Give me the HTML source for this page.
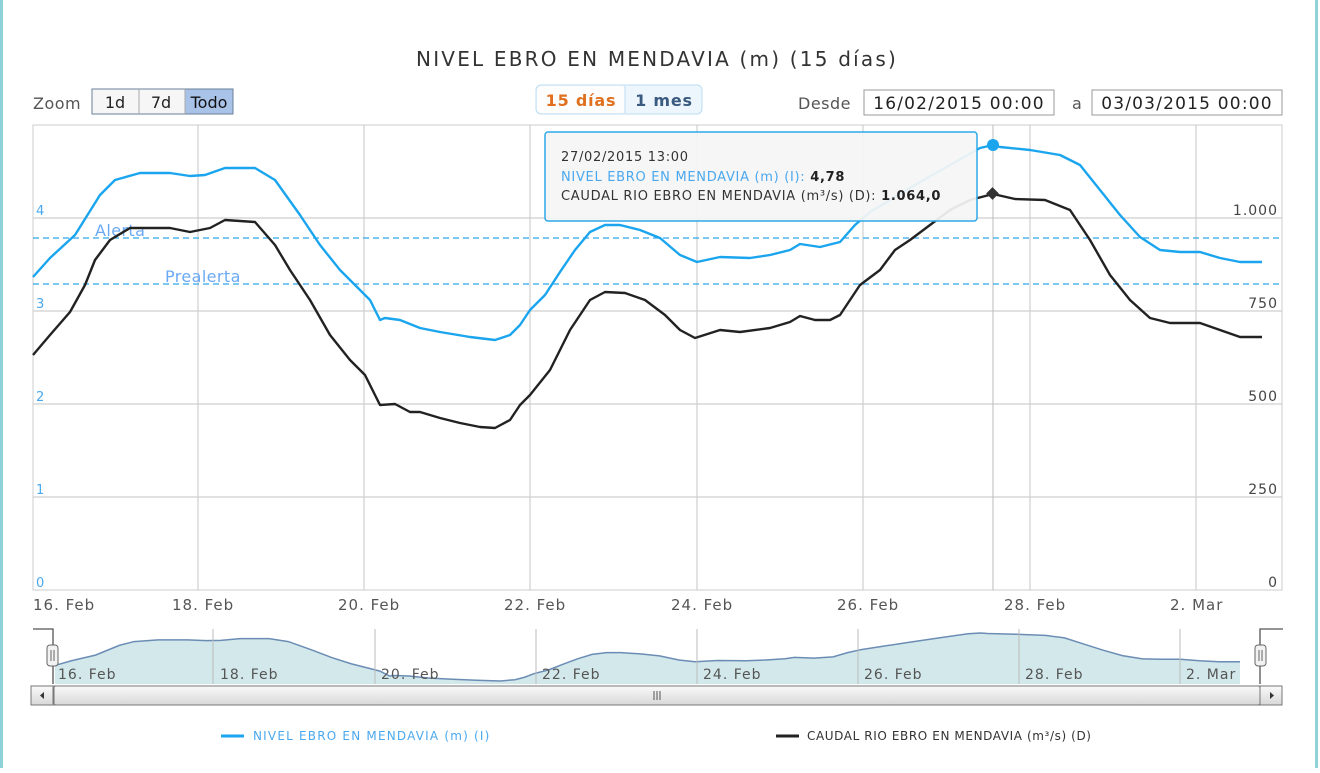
<!DOCTYPE html>
<html><head><meta charset="utf-8"><style>
html,body{margin:0;padding:0;background:#fff;}
body{width:1320px;height:768px;overflow:hidden;}
</style></head><body>
<svg width="1320" height="768" xmlns="http://www.w3.org/2000/svg" font-family="DejaVu Sans, sans-serif">
<rect x="0" y="0" width="3" height="768" fill="#8fd3d8"/>
<rect x="1315" y="0" width="3" height="768" fill="#8fd3d8"/>
<text x="657" y="66" text-anchor="middle" font-size="20" letter-spacing="2.2" fill="#333">NIVEL EBRO EN MENDAVIA (m) (15 días)</text>
<!-- zoom -->
<text x="33" y="109" font-size="16" letter-spacing="0.5" fill="#555">Zoom</text>
<rect x="92" y="89" width="141" height="25" fill="#f6f6f6" stroke="#6a7f9a"/>
<line x1="139" y1="89" x2="139" y2="114" stroke="#aaa"/>
<line x1="185" y1="89" x2="185" y2="114" stroke="#aaa"/>
<rect x="185.5" y="89.5" width="47" height="24" fill="#a9c2e8"/>
<text x="115" y="108" text-anchor="middle" font-size="16" fill="#222">1d</text>
<text x="161" y="108" text-anchor="middle" font-size="16" fill="#222">7d</text>
<text x="209" y="108" text-anchor="middle" font-size="16" fill="#111">Todo</text>
<rect x="536" y="85" width="166" height="29" rx="5" fill="#eef6fd" stroke="#bcdcf2"/>
<rect x="537" y="86" width="88" height="27" rx="4" fill="#fdfdfd"/>
<line x1="625" y1="86" x2="625" y2="113" stroke="#bcdcf2"/>
<text x="581" y="106" text-anchor="middle" font-size="16" letter-spacing="0.8" font-weight="bold" fill="#e07020">15 días</text>
<text x="664" y="106" text-anchor="middle" font-size="16" letter-spacing="0.8" font-weight="bold" fill="#3a5a80">1 mes</text>
<text x="798" y="109" font-size="16" letter-spacing="0.5" fill="#555">Desde</text>
<rect x="864" y="90" width="190" height="25" fill="#fff" stroke="#999"/>
<text x="959" y="109" text-anchor="middle" font-size="17" letter-spacing="1.2" fill="#222">16/02/2015 00:00</text>
<text x="1072" y="109" font-size="16" fill="#555">a</text>
<rect x="1092" y="90" width="190" height="25" fill="#fff" stroke="#999"/>
<text x="1187" y="109" text-anchor="middle" font-size="17" letter-spacing="1.2" fill="#222">03/03/2015 00:00</text>
<!-- plot -->
<rect x="33" y="125" width="1249" height="465" fill="none" stroke="#ccc"/>
<g stroke="#cfcfcf" stroke-width="1.2">
<line x1="33" y1="218" x2="1282" y2="218"/><line x1="33" y1="311" x2="1282" y2="311"/>
<line x1="33" y1="404" x2="1282" y2="404"/><line x1="33" y1="497" x2="1282" y2="497"/>
<line x1="198" y1="125" x2="198" y2="590"/><line x1="364" y1="125" x2="364" y2="590"/>
<line x1="530" y1="125" x2="530" y2="590"/><line x1="697" y1="125" x2="697" y2="590"/>
<line x1="863" y1="125" x2="863" y2="590"/><line x1="1030" y1="125" x2="1030" y2="590"/>
<line x1="1196" y1="125" x2="1196" y2="590"/>
</g>
<line x1="993" y1="125" x2="993" y2="590" stroke="#bbb"/>
<g font-size="13" fill="#4aa8ee">
<text x="36" y="215">4</text><text x="36" y="308">3</text><text x="36" y="401">2</text><text x="36" y="494">1</text><text x="36" y="587">0</text>
</g>
<g font-size="14" letter-spacing="1" fill="#444" text-anchor="end">
<text x="1278" y="215">1.000</text><text x="1278" y="308">750</text><text x="1278" y="401">500</text><text x="1278" y="494">250</text><text x="1278" y="587">0</text>
</g>
<g font-size="15" letter-spacing="1" fill="#555">
<text x="33" y="610">16. Feb</text><text x="172" y="610">18. Feb</text><text x="338" y="610">20. Feb</text><text x="504" y="610">22. Feb</text><text x="671" y="610">24. Feb</text><text x="837" y="610">26. Feb</text><text x="1004" y="610">28. Feb</text><text x="1170" y="610">2. Mar</text>
</g>
<line x1="33" y1="238" x2="1282" y2="238" stroke="#2fa8ea" stroke-dasharray="6,4" stroke-width="1.3"/>
<line x1="33" y1="284" x2="1282" y2="284" stroke="#2fa8ea" stroke-dasharray="6,4" stroke-width="1.3"/>
<text x="95" y="236" font-size="16" letter-spacing="0.4" fill="#6aaaf5">Alerta</text>
<text x="165" y="282" font-size="16" letter-spacing="0.4" fill="#6aaaf5">Prealerta</text>
<polyline fill="none" stroke="#222" stroke-width="2.4" stroke-linejoin="round" points="33,355 50,335 70,312 85,285 95,260 110,240 130,228 170,228 190,232 210,228 225,220 255,222 275,245 290,270 310,300 330,335 350,360 365,375 380,405 395,404 410,412 420,412 440,418 460,423 480,427 495,428 510,420 520,405 530,395 550,370 570,330 590,300 605,292 625,293 645,300 665,315 680,330 695,338 720,330 740,332 770,328 790,322 800,316 815,320 830,320 840,315 860,285 880,270 895,250 910,240 930,225 950,210 970,200 993,194 1015,199 1045,200 1070,210 1090,240 1110,275 1130,300 1150,318 1170,323 1200,323 1220,330 1240,337 1262,337"/>
<polyline fill="none" stroke="#1aa5ee" stroke-width="2.4" stroke-linejoin="round" points="33,277 50,258 75,235 100,195 115,180 140,173 170,173 190,176 205,175 225,168 255,168 275,180 300,215 320,245 340,270 360,290 370,300 380,320 385,318 400,320 420,328 440,332 470,337 495,340 510,335 520,325 530,310 545,295 560,272 575,250 590,232 605,225 620,225 640,230 660,238 680,255 697,262 720,257 750,258 770,255 790,250 800,244 820,247 840,242 855,225 870,212 890,200 920,182 950,165 980,148 993,145 1000,147 1030,150 1060,155 1080,165 1100,190 1120,215 1140,237 1160,250 1180,252 1200,252 1220,258 1240,262 1262,262"/>
<circle cx="993" cy="145" r="6" fill="#1aa5ee"/>
<rect x="988" y="189" width="9" height="9" fill="#333" transform="rotate(45 992.5 193.5)"/>
<!-- tooltip -->
<rect x="545" y="132" width="432" height="89" rx="3" fill="#f5f5f5" fill-opacity="0.93" stroke="#2fa8ea" stroke-width="1.5"/>
<text x="561" y="161" font-size="13" letter-spacing="0.7" fill="#333">27/02/2015 13:00</text>
<text x="561" y="181" font-size="13" letter-spacing="0.7" fill="#4aa8ee">NIVEL EBRO EN MENDAVIA (m) (I): <tspan fill="#222" font-weight="bold">4,78</tspan></text>
<text x="561" y="200" font-size="13" letter-spacing="0.7" fill="#333">CAUDAL RIO EBRO EN MENDAVIA (m³/s) (D): <tspan fill="#222" font-weight="bold">1.064,0</tspan></text>
<!-- navigator -->
<polyline fill="none" stroke="#555" stroke-width="1.3" points="33,629 53,629 53,684"/>
<polyline fill="none" stroke="#555" stroke-width="1.3" points="1283,629 1260,629 1260,684"/>
<g transform="matrix(0.9642,0,0,0.246,23.18,597.3)">
<polygon fill="#d3e8ea" stroke="none" points="33,277 50,258 75,235 100,195 115,180 140,173 170,173 190,176 205,175 225,168 255,168 275,180 300,215 320,245 340,270 360,290 370,300 380,320 385,318 400,320 420,328 440,332 470,337 495,340 510,335 520,325 530,310 545,295 560,272 575,250 590,232 605,225 620,225 640,230 660,238 680,255 697,262 720,257 750,258 770,255 790,250 800,244 820,247 840,242 855,225 870,212 890,200 920,182 950,165 980,148 993,145 1000,147 1030,150 1060,155 1080,165 1100,190 1120,215 1140,237 1160,250 1180,252 1200,252 1220,258 1240,262 1262,262 1262,353 33,353"/>
<polyline fill="none" stroke="#6b8db5" stroke-width="1.5" vector-effect="non-scaling-stroke" points="33,277 50,258 75,235 100,195 115,180 140,173 170,173 190,176 205,175 225,168 255,168 275,180 300,215 320,245 340,270 360,290 370,300 380,320 385,318 400,320 420,328 440,332 470,337 495,340 510,335 520,325 530,310 545,295 560,272 575,250 590,232 605,225 620,225 640,230 660,238 680,255 697,262 720,257 750,258 770,255 790,250 800,244 820,247 840,242 855,225 870,212 890,200 920,182 950,165 980,148 993,145 1000,147 1030,150 1060,155 1080,165 1100,190 1120,215 1140,237 1160,250 1180,252 1200,252 1220,258 1240,262 1262,262"/>
</g>
<g stroke="#bbb"><line x1="213" y1="629" x2="213" y2="684"/><line x1="375" y1="629" x2="375" y2="684"/><line x1="536" y1="629" x2="536" y2="684"/><line x1="697" y1="629" x2="697" y2="684"/><line x1="858" y1="629" x2="858" y2="684"/><line x1="1019" y1="629" x2="1019" y2="684"/><line x1="1180" y1="629" x2="1180" y2="684"/></g>
<g font-size="14" letter-spacing="1" fill="#555">
<text x="58" y="679">16. Feb</text><text x="220" y="679">18. Feb</text><text x="381" y="679">20. Feb</text><text x="542" y="679">22. Feb</text><text x="703" y="679">24. Feb</text><text x="864" y="679">26. Feb</text><text x="1025" y="679">28. Feb</text><text x="1186" y="679">2. Mar</text>
</g>
<rect x="47" y="645" width="11" height="21" rx="3" fill="#f2f2f2" stroke="#666"/>
<line x1="51" y1="650" x2="51" y2="661" stroke="#666"/><line x1="54" y1="650" x2="54" y2="661" stroke="#666"/>
<rect x="1255" y="645" width="11" height="21" rx="3" fill="#f2f2f2" stroke="#666"/>
<line x1="1259" y1="650" x2="1259" y2="661" stroke="#666"/><line x1="1262" y1="650" x2="1262" y2="661" stroke="#666"/>
<defs><linearGradient id="sg" x1="0" y1="0" x2="0" y2="1"><stop offset="0" stop-color="#fafafa"/><stop offset="1" stop-color="#d8d8d8"/></linearGradient></defs>
<rect x="31" y="686" width="1251" height="19" rx="2" fill="#eee" stroke="#777"/>
<rect x="54" y="686" width="1206" height="19" rx="2" fill="url(#sg)" stroke="#777"/>
<rect x="31" y="686" width="22" height="19" fill="url(#sg)" stroke="#777"/>
<rect x="1260" y="686" width="22" height="19" fill="url(#sg)" stroke="#777"/>
<polygon points="44,692 44,699 40,695.5" fill="#333"/>
<polygon points="1270,692 1270,699 1274,695.5" fill="#333"/>
<g stroke="#555"><line x1="654" y1="691" x2="654" y2="700"/><line x1="657" y1="691" x2="657" y2="700"/><line x1="660" y1="691" x2="660" y2="700"/></g>
<!-- legend -->
<line x1="221" y1="736" x2="244" y2="736" stroke="#1aa5ee" stroke-width="3"/>
<text x="253" y="740" font-size="12" letter-spacing="1.2" fill="#4aa8ee">NIVEL EBRO EN MENDAVIA (m) (I)</text>
<line x1="776" y1="736" x2="799" y2="736" stroke="#222" stroke-width="3"/>
<text x="807" y="740" font-size="12" letter-spacing="0.6" fill="#333">CAUDAL RIO EBRO EN MENDAVIA (m³/s) (D)</text>
</svg>
</body></html>
